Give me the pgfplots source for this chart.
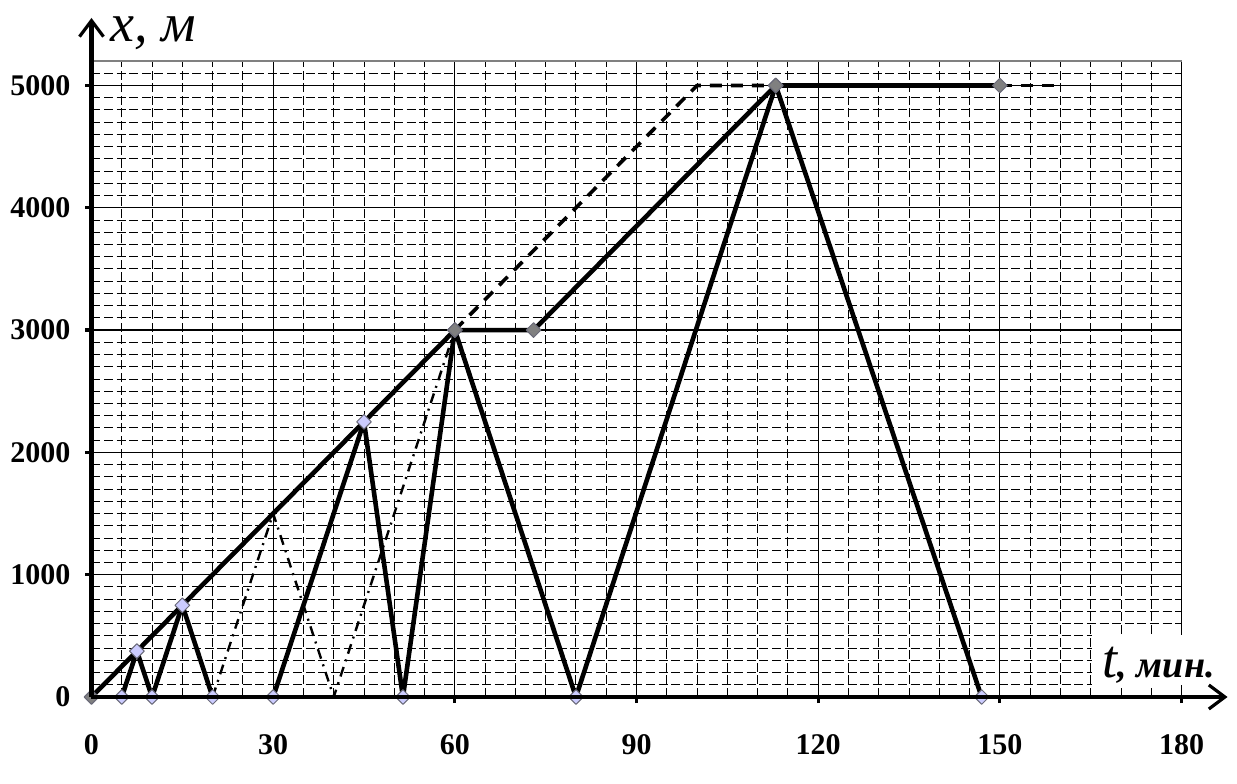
\documentclass[border=0pt]{standalone}
\usepackage{fontspec}
\setmainfont{Liberation Serif}
\usepackage{pgfplots}
\pgfplotsset{compat=1.18}
\usetikzlibrary{arrows.meta}
\definecolor{mkblue}{RGB}{204,204,255}
\definecolor{mkgray}{RGB}{128,128,128}
\definecolor{mkedge}{RGB}{105,105,120}

\begin{document}
\begin{tikzpicture}
\path[use as bounding box] (-45.75pt,-43pt) rectangle (572.75pt,348.5pt);
\begin{axis}[
    at={(0,0)}, anchor=south west,
    scale only axis, width=545pt, height=318pt,
    xmin=0, xmax=180, ymin=0, ymax=5200,
    axis x line*=bottom, axis y line*=left,
    axis line style={draw=none},
    xtick={0,30,...,180}, ytick={0,1000,...,5000},
    minor xtick={0,5,...,180}, minor ytick={0,100,...,5200},
    grid=both,
    major grid style={black, line width=0.6pt},
    minor grid style={black, line width=0.45pt, dash pattern=on 4.5pt off 1.8pt},
    tick align=outside, major tick length=3pt, minor tick length=0pt,
    tick style={black, line width=1.6pt},
    tick label style={font=\fontsize{15}{15}\selectfont\bfseries},
    /pgf/number format/assume math mode=true,
    /pgf/number format/1000 sep={},
    xticklabel style={yshift=-12pt},
    yticklabel style={xshift=-4pt},
    every axis plot/.append style={line join=round},
    clip=false,
]
% dashed alternatives
\addplot[black, line width=1.2pt, dash pattern=on 5pt off 3pt on 1pt off 3pt]
  coordinates {(20,0)(30,1500)(40,0)(60,3000)};
\addplot[black, line width=1.8pt, dash pattern=on 6pt off 4.5pt]
  coordinates {(60,3000)(100,5000)(113,5000)};
\addplot[black, line width=1.8pt, dash pattern=on 6pt off 4.5pt]
  coordinates {(150,5000)(160,5000)};
% main run
\addplot[black, line width=2.3pt, mark=square*, mark size=2.6pt,
  mark options={solid, rotate=45, fill=mkgray, draw=mkedge, line width=0.5pt}]
  coordinates {(0,0)(60,3000)(73,3000)(113,5000)(150,5000)};
% zigzags
\addplot[black, line width=2.3pt, mark=square*, mark size=2.6pt,
  mark options={solid, rotate=45, fill=mkblue, draw=mkedge, line width=0.5pt}]
  coordinates {(5,0)(7.5,375)(10,0)(15,750)(20,0)};
\addplot[black, line width=2.3pt, mark=square*, mark size=2.6pt, mark indices={1,2,3,5,7},
  mark options={solid, rotate=45, fill=mkblue, draw=mkedge, line width=0.5pt}]
  coordinates {(30,0)(45,2250)(51.43,0)(60,3000)(80,0)(113,5000)(147,0)};
\addplot[only marks, mark=square*, mark size=2.6pt,
  mark options={solid, rotate=45, fill=mkgray, draw=mkedge, line width=0.5pt}]
  coordinates {(60,3000)(113,5000)};
\end{axis}
% frame top and axes with arrows
\draw[gray, line width=0.8pt] (0,318pt) -- (545pt,318pt);
\draw[line width=2.2pt, -{Straight Barb[length=8pt,width=12pt,line width=1.6pt]}] (0,0) -- (568pt,0);
\draw[line width=2.2pt, -{Straight Barb[length=8pt,width=12pt,line width=1.6pt]}] (0,0) -- (0,339.5pt);
% axis labels
\fill[white] (500pt,6pt) rectangle (550pt,31pt);
\node[anchor=base west, inner sep=0pt] at (505.5pt,10pt)
  {\fontsize{27}{27}\selectfont\itshape t\fontsize{19}{19}\selectfont\bfseries, мин.};
\node[anchor=base west, inner sep=0pt] at (9.25pt,327.5pt)
  {\fontsize{27}{27}\selectfont\itshape x, м};
\end{tikzpicture}
\end{document}
